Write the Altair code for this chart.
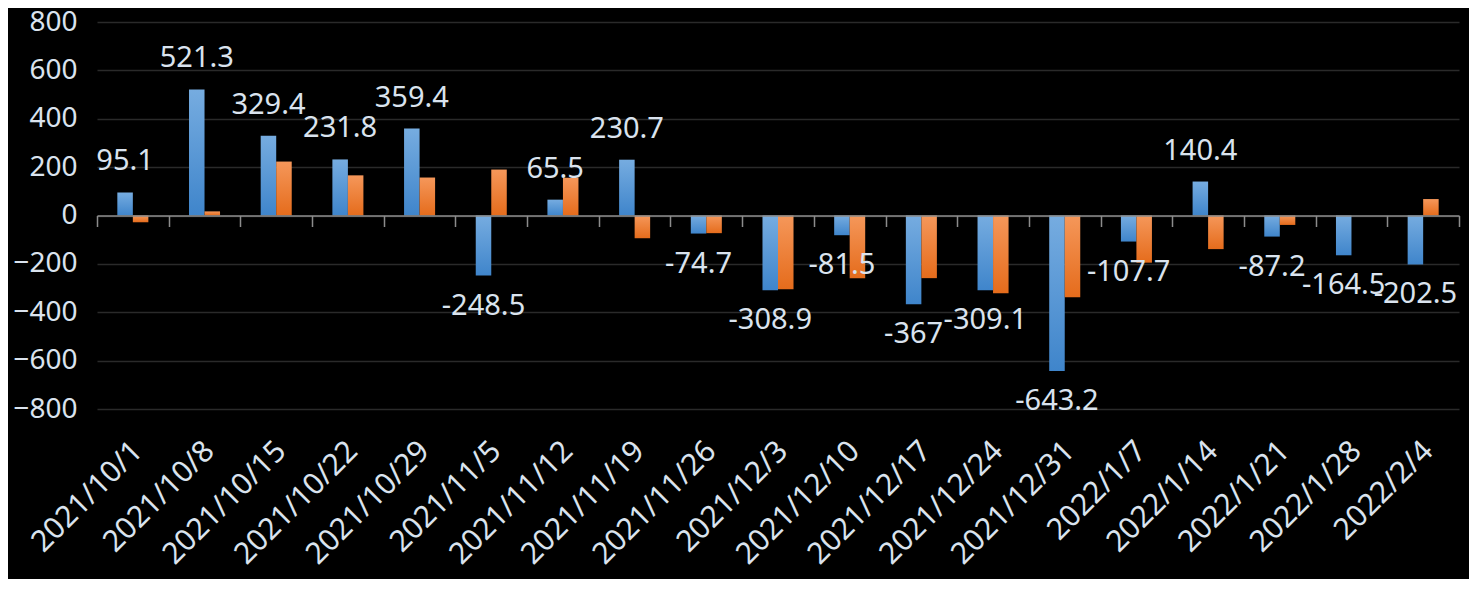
import altair as alt
import pandas as pd

dates = ["2021/10/1", "2021/10/8", "2021/10/15", "2021/10/22", "2021/10/29",
         "2021/11/5", "2021/11/12", "2021/11/19", "2021/11/26", "2021/12/3",
         "2021/12/10", "2021/12/17", "2021/12/24", "2021/12/31", "2022/1/7",
         "2022/1/14", "2022/1/21", "2022/1/28", "2022/2/4"]
blue = [95.1, 521.3, 329.4, 231.8, 359.4, -248.5, 65.5, 230.7, -74.7, -308.9,
        -81.5, -367, -309.1, -643.2, -107.7, 140.4, -87.2, -164.5, -202.5]
orange = [-28, 17, 223, 166, 157, 190, 156, -94, -73, -305,
          -259, -259, -321, -338, -195, -139, -39, 0, 68]
series = ["A", "B"]
y_ticks = [-800, -600, -400, -200, 0, 200, 400, 600, 800]

rows = []
for d, b, o in zip(dates, blue, orange):
    rows.append({"date": d, "series": "A", "value": b, "label": f"{b:g}"})
    rows.append({"date": d, "series": "B", "value": o, "label": f"{o:g}"})
df = pd.DataFrame(rows)

FONT = "Noto Sans"
TXT = "#dae3ee"
W, H = 1362, 387

xscale = alt.Scale(domain=dates, paddingInner=0, paddingOuter=0)
# two empty slots either side of the pair keep the bars narrow and centred
xoff = alt.XOffset("series:N",
                   scale=alt.Scale(domain=["_l"] + series + ["_r"],
                                   paddingInner=0, paddingOuter=0.31))
yenc = alt.Y("value:Q",
             scale=alt.Scale(domain=[-800, 800], nice=False, zero=False),
             axis=alt.Axis(values=y_ticks, title=None, domain=False, ticks=False,
                           labelPadding=20, labelFontSize=28, labelColor=TXT,
                           labelFont=FONT, grid=True, gridColor="#2a2a2a",
                           gridWidth=1.6))

label_axis = alt.Axis(orient="bottom", title=None, domain=False, ticks=False,
                      tickSize=0, grid=False, labelAngle=-45, labelAlign="right",
                      labelBaseline="middle", labelPadding=37, labelOffset=5,
                      labelFontSize=30, labelColor=TXT, labelFont=FONT)
zero_axis = alt.Axis(orient="bottom", title=None, offset=-H / 2, labels=False,
                     ticks=True, tickBand="extent", tickSize=11,
                     tickColor="#8c8c8c", tickWidth=1.5, domain=True,
                     domainColor="#8c8c8c", domainWidth=1.6, grid=False, zindex=1)

blue_grad = alt.Gradient(gradient="linear",
                         stops=[alt.GradientStop(color="#76ace0", offset=0),
                                alt.GradientStop(color="#3f85cb", offset=1)],
                         x1=0, x2=0, y1=0, y2=1)
orange_grad = alt.Gradient(gradient="linear",
                           stops=[alt.GradientStop(color="#f5975a", offset=0),
                                  alt.GradientStop(color="#e56c1c", offset=1)],
                           x1=0, x2=0, y1=0, y2=1)

base = alt.Chart(df)

bars_blue = base.transform_filter(alt.datum.series == "A").mark_bar(color=blue_grad).encode(
    x=alt.X("date:N", sort=dates, scale=xscale, axis=label_axis),
    xOffset=xoff, y=yenc)
bars_orange = base.transform_filter(alt.datum.series == "B").mark_bar(color=orange_grad).encode(
    x=alt.X("date:N", sort=dates, scale=xscale, axis=zero_axis),
    xOffset=xoff, y=yenc)

text_pos = base.transform_filter((alt.datum.series == "A") & (alt.datum.value > 0)).mark_text(
    dy=-31, fontSize=29, font=FONT, color=TXT, baseline="middle", align="center").encode(
    x=alt.X("date:N", sort=dates, scale=xscale, axis=None),
    xOffset=xoff, y=yenc, text="label:N")
text_neg = base.transform_filter((alt.datum.series == "A") & (alt.datum.value < 0)).mark_text(
    dy=30, fontSize=29, font=FONT, color=TXT, baseline="middle", align="center").encode(
    x=alt.X("date:N", sort=dates, scale=xscale, axis=None),
    xOffset=xoff, y=yenc, text="label:N")

chart = alt.layer(bars_blue, bars_orange, text_pos, text_neg).resolve_axis(
    x="independent"
).properties(
    width=W, height=H,
    autosize=alt.AutoSizeParams(type="none"),
    padding={"left": 89, "top": 14, "right": 10, "bottom": 170},
    background="#000000",
).configure_view(stroke=None)

chart.save("out.html", embed_options={"renderer": "svg", "actions": False})
